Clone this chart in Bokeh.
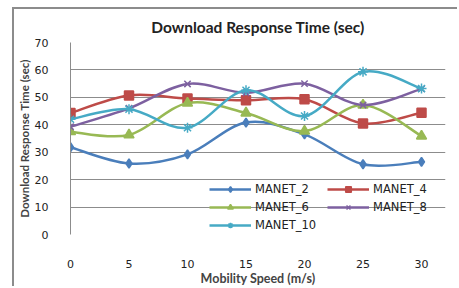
from bokeh.plotting import figure
from bokeh.models import Range1d, Legend, LegendItem, FixedTicker, Title
from bokeh.embed import file_html
from bokeh.resources import INLINE

speeds = [0, 5, 10, 15, 20, 25, 30]
manet_2 = [31.8, 25.9, 29.2, 40.8, 36.5, 25.6, 26.5]
manet_4 = [44.3, 50.7, 49.6, 48.9, 49.3, 40.5, 44.4]
manet_6 = [37.5, 36.3, 47.9, 44.3, 37.7, 47.2, 35.9]
manet_8 = [39.3, 46.0, 54.9, 51.7, 55.0, 47.2, 53.1]
manet_10 = [42.0, 45.7, 38.9, 52.6, 43.2, 59.3, 53.2]
series_names = ["MANET_2", "MANET_4", "MANET_6", "MANET_8", "MANET_10"]
y_ticks = [0, 10, 20, 30, 40, 50, 60, 70]

colors = ["#4A7EBB", "#BE4B48", "#98B954", "#7D60A0", "#46AAC5"]
markers = ["diamond", "square", "triangle", "x", "asterisk"]
msizes = [9, 9, 10, 9, 10]

p = figure(width=445, height=279, output_backend="svg", toolbar_location=None,
           x_range=Range1d(0, 32.05), y_range=Range1d(0, 70),
           min_border_left=54, min_border_right=14, min_border_top=33, min_border_bottom=49)
p.styles = {"margin-left": "12px", "margin-top": "7px",
            "border-left": "2px solid #8c8c8c", "border-top": "2px solid #8c8c8c"}
p.outline_line_color = None
p.border_fill_color = "white"
p.background_fill_color = "white"

p.title = Title(text="Download Response Time (sec)", align="center",
                text_font="Lato", text_font_size="15.5px", text_font_style="bold",
                text_color="#222222", standoff=13)

p.xgrid.grid_line_color = None
p.ygrid.grid_line_color = "#8c8c8c"
p.ygrid.grid_line_width = 1
p.ygrid.ticker = FixedTicker(ticks=y_ticks)

p.yaxis.ticker = FixedTicker(ticks=y_ticks)
p.yaxis.axis_line_color = "#8c8c8c"
p.yaxis.major_tick_line_color = None
p.yaxis.minor_tick_line_color = None
p.yaxis.major_label_standoff = 16
p.yaxis.major_label_text_font = "DejaVu Sans"
p.yaxis.major_label_text_font_size = "11px"
p.yaxis.major_label_text_color = "#222222"
p.yaxis.axis_label = "Download Response Time (sec)"
p.yaxis.axis_label_text_font = "Lato"
p.yaxis.axis_label_text_font_size = "11.5px"
p.yaxis.axis_label_text_font_style = "bold"
p.yaxis.axis_label_standoff = 1

p.xaxis.ticker = FixedTicker(ticks=speeds)
p.xaxis.axis_line_color = None
p.xaxis.major_tick_line_color = None
p.xaxis.minor_tick_line_color = None
p.xaxis.major_label_standoff = 19
p.xaxis.major_label_text_font = "DejaVu Sans"
p.xaxis.major_label_text_font_size = "11px"
p.xaxis.major_label_text_color = "#222222"
p.xaxis.axis_label = "Mobility Speed (m/s)"
p.xaxis.axis_label_text_font = "Lato"
p.xaxis.axis_label_text_font_size = "12.5px"
p.xaxis.axis_label_text_font_style = "bold"
p.xaxis.axis_label_standoff = 0


def bezier_segments(xs, ys):
    n = len(xs)
    seg = dict(x0=[], y0=[], x1=[], y1=[], cx0=[], cy0=[], cx1=[], cy1=[])
    for i in range(n - 1):
        i0 = max(i - 1, 0)
        i3 = min(i + 2, n - 1)
        seg["x0"].append(xs[i]); seg["y0"].append(ys[i])
        seg["x1"].append(xs[i + 1]); seg["y1"].append(ys[i + 1])
        seg["cx0"].append(xs[i] + (xs[i + 1] - xs[i0]) / 6.0)
        seg["cy0"].append(ys[i] + (ys[i + 1] - ys[i0]) / 6.0)
        seg["cx1"].append(xs[i + 1] - (xs[i3] - xs[i]) / 6.0)
        seg["cy1"].append(ys[i + 1] - (ys[i3] - ys[i]) / 6.0)
    return seg


items = []
for name, ys, c, m, s in zip(series_names, [manet_2, manet_4, manet_6, manet_8, manet_10],
                             colors, markers, msizes):
    seg = bezier_segments(speeds, ys)
    p.bezier(x0="x0", y0="y0", x1="x1", y1="y1", cx0="cx0", cy0="cy0", cx1="cx1", cy1="cy1",
             source=seg, line_color=c, line_width=2.5)
    lr = p.line([float("nan")], [float("nan")], line_color=c, line_width=2.5)
    sr = p.scatter(speeds, ys, marker=m, size=s, fill_color=c, line_color=c, line_width=1.5)
    items.append(LegendItem(label=name, renderers=[lr, sr]))

legend = Legend(items=items, location=(139, 2), orientation="horizontal", ncols=2,
                glyph_width=42, glyph_height=14, label_standoff=4, label_width=68, spacing=4,
                padding=0, margin=0, border_line_color=None, background_fill_alpha=0,
                label_text_font="DejaVu Sans", label_text_font_size="11.5px",
                label_text_color="#222222")
p.add_layout(legend)

open("out.html", "w").write(file_html(p, INLINE))
